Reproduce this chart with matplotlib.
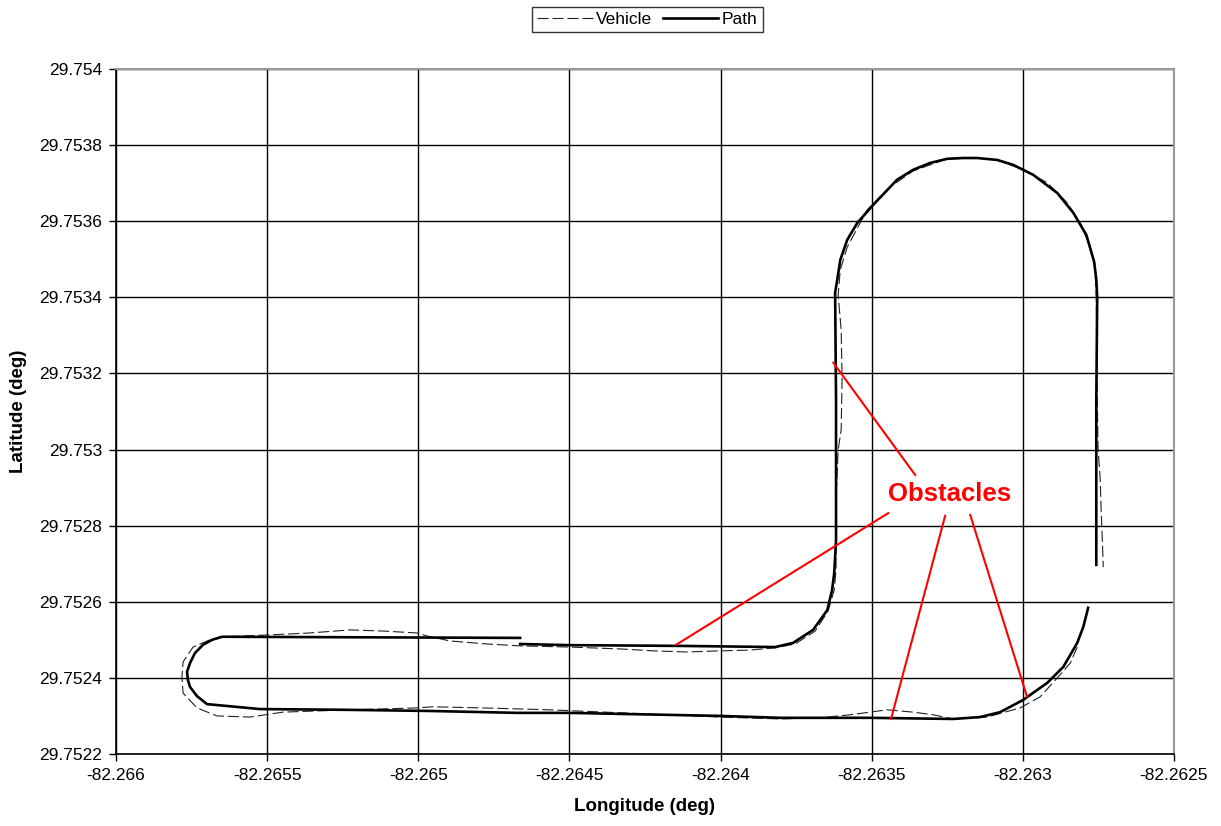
import numpy as np
import matplotlib
matplotlib.use("Agg")
import matplotlib.pyplot as plt
from matplotlib.ticker import FuncFormatter

plt.rcParams['font.family'] = ['Liberation Sans', 'DejaVu Sans']

# vehicle track (dashed)
vehicle_lon = [-82.26282, -82.262843, -82.262886, -82.262943, -82.263009, -82.263118,
               -82.26323, -82.263297, -82.263363, -82.263449, -82.263505, -82.263571,
               -82.263671, -82.263803, -82.264, -82.264233, -82.264564, -82.264786,
               -82.264951, -82.265004, -82.265226, -82.265447, -82.265557, -82.265666,
               -82.265732, -82.265778, -82.265782, -82.265778, -82.265745, -82.265689,
               -82.265646, -82.26549, -82.265358, -82.265226, -82.265117, -82.265004,
               -82.264971, -82.264895, -82.264772, -82.264663, -82.2645, -82.264332,
               -82.264223, -82.264111, -82.264, -82.263902, -82.263819, -82.263753,
               -82.263687, -82.263644, -82.263624, -82.263618, -82.263618, -82.263611,
               -82.263601, -82.263598, -82.263601, -82.263611, -82.263604, -82.263581,
               -82.263515, -82.263472, -82.263439, -82.263363, -82.26325, -82.263151,
               -82.263085, -82.262999, -82.262919, -82.262853, -82.26281, -82.262777,
               -82.262761, -82.262757, -82.262754, -82.262751, -82.262744, -82.262741,
               -82.262737, -82.262734]
vehicle_lat = [29.752481, 29.752439, 29.7524, 29.75235, 29.752321, 29.752297,
               29.752292, 29.752303, 29.75231, 29.752316, 29.75231, 29.752303,
               29.752295, 29.752292, 29.752297, 29.752305, 29.752316, 29.752321,
               29.752324, 29.752321, 29.752316, 29.75231, 29.752297, 29.7523,
               29.752321, 29.75236, 29.752402, 29.752442, 29.752481, 29.7525,
               29.752508, 29.752513, 29.752518, 29.752526, 29.752523, 29.752518,
               29.75251, 29.752497, 29.752489, 29.752484, 29.752481, 29.752476,
               29.752471, 29.752468, 29.752471, 29.752473, 29.752479, 29.752489,
               29.752523, 29.752576, 29.752631, 29.752684, 29.752868, 29.752999,
               29.753052, 29.753183, 29.753314, 29.753406, 29.753472, 29.753532,
               29.75363, 29.753664, 29.75369, 29.753732, 29.753764, 29.753766,
               29.753761, 29.753735, 29.753701, 29.753648, 29.753595, 29.753532,
               29.753472, 29.753393, 29.75313, 29.752999, 29.75292, 29.752841,
               29.752762, 29.752691]

# planned path, two pieces
path_a_lon = [-82.264663, -82.265649, -82.265682, -82.265712, -82.265739, -82.265755,
              -82.265765, -82.265762, -82.265755, -82.265732, -82.265699,
              -82.265524, -82.265236, -82.264961, -82.264673, -82.2645, -82.264,
              -82.263803, -82.263505, -82.26323, -82.263141, -82.263075, -82.262999,
              -82.262919, -82.262866, -82.26282, -82.2628, -82.262784]
path_a_lat = [29.752505, 29.752508, 29.7525, 29.752487, 29.752465, 29.752439,
              29.752416, 29.752394, 29.752376, 29.752352, 29.752331,
              29.752318, 29.752316, 29.752313, 29.752308, 29.752308, 29.7523,
              29.752295, 29.752295, 29.752292, 29.752297, 29.75231, 29.752342,
              29.752387, 29.752429, 29.752492, 29.752534, 29.752584]
path_b_lon = [-82.264663, -82.2645, -82.264134, -82.263819, -82.26376, -82.263694,
              -82.263647, -82.263631, -82.263624, -82.263618, -82.263618, -82.263621,
              -82.263614, -82.263604, -82.263581, -82.263548, -82.263495, -82.263416,
              -82.263363, -82.263307, -82.26325, -82.263197, -82.263151, -82.263085,
              -82.263032, -82.262966, -82.262886, -82.262833, -82.26279, -82.262764,
              -82.262757, -82.262754, -82.262757, -82.262757]
path_b_lat = [29.752489, 29.752486, 29.752484, 29.752481, 29.752492, 29.752526,
              29.752578, 29.752631, 29.752676, 29.752762, 29.75313, 29.753412,
              29.753446, 29.753498, 29.753551, 29.753595, 29.753643, 29.753709,
              29.753735, 29.753753, 29.753764, 29.753766, 29.753766, 29.753761,
              29.753748, 29.753722, 29.753674, 29.753622, 29.753564, 29.753493,
              29.753446, 29.753401, 29.75313, 29.752697]

# obstacle annotation
label_pos = (-82.263244, 29.752883)
line_start = [(-82.263356, 29.752933), (-82.263445, 29.752833),
              (-82.263257, 29.752826), (-82.263174, 29.752828)]
obstacle_pts = [(-82.263627, 29.753228), (-82.264147, 29.752487),
                (-82.263436, 29.752292), (-82.262986, 29.75235)]

x_ticks = [-82.266, -82.2655, -82.265, -82.2645, -82.264, -82.2635, -82.263, -82.2625]
y_ticks = [29.7522, 29.7524, 29.7526, 29.7528, 29.753, 29.7532, 29.7534, 29.7536, 29.7538, 29.754]

fig = plt.figure(figsize=(12.21, 8.26), dpi=100)
ax = fig.add_axes([0.095, 0.0872, 0.8665, 0.8293])

ax.plot(vehicle_lon, vehicle_lat, color='#222222', lw=0.8, dashes=(10, 3.5), label='Vehicle', zorder=3)
ax.plot(path_a_lon + [np.nan] + path_b_lon, path_a_lat + [np.nan] + path_b_lat,
        color='black', lw=1.9, label='Path', zorder=4)

for s, e in zip(line_start, obstacle_pts):
    ax.plot([s[0], e[0]], [s[1], e[1]], color='red', lw=1.5, zorder=5)
ax.text(label_pos[0], label_pos[1], 'Obstacles', color='red', fontsize=18.5,
        fontweight='bold', ha='center', va='center', zorder=6)

ax.set_xlim(x_ticks[0], x_ticks[-1])
ax.set_ylim(y_ticks[0], y_ticks[-1])
ax.set_xticks(x_ticks)
ax.set_yticks(y_ticks)
fmt = FuncFormatter(lambda v, p: ('%.4f' % v).rstrip('0').rstrip('.'))
ax.xaxis.set_major_formatter(fmt)
ax.yaxis.set_major_formatter(fmt)
ax.grid(True, color='black', lw=1.0, zorder=0)
ax.set_axisbelow(True)
ax.tick_params(direction='out', length=5, width=1, labelsize=12.5, colors='black', pad=5)
for side in ['top', 'right']:
    ax.spines[side].set_color('#999999')
    ax.spines[side].set_linewidth(1.5)
for side in ['left', 'bottom']:
    ax.spines[side].set_linewidth(1.2)

ax.set_xlabel('Longitude (deg)', fontsize=13.5, fontweight='bold', labelpad=11)
ax.set_ylabel('Latitude (deg)', fontsize=13.5, fontweight='bold', labelpad=9)

leg = fig.legend(loc='upper center', bbox_to_anchor=(0.53, 0.992), ncol=2, fontsize=12.5,
                 frameon=True, fancybox=False, edgecolor='black', handlelength=3.2,
                 handletextpad=0.2, columnspacing=0.6, borderpad=0.3, borderaxespad=0)
leg.get_frame().set_linewidth(1.0)

fig.savefig('out.png', dpi=100, facecolor='white')
